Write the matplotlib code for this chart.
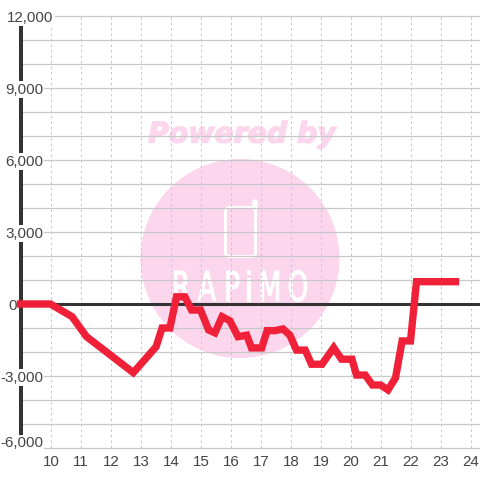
import matplotlib
matplotlib.use("Agg")
import matplotlib.pyplot as plt
from matplotlib.patches import Ellipse, FancyBboxPatch
from matplotlib.patheffects import AbstractPathEffect, withStroke
from matplotlib.transforms import Affine2D, IdentityTransform

hours = [9, 10, 10.72, 11.2, 12.76, 13.52, 13.72, 13.98, 14.2, 14.48, 14.7, 15, 15.27, 15.48,
         15.72, 15.98, 16.25, 16.54, 16.7, 17.04, 17.22, 17.48, 17.75, 17.98, 18.2, 18.49,
         18.7, 19.05, 19.44, 19.7, 20.05, 20.2, 20.49, 20.73, 21, 21.25, 21.5, 21.72, 22, 22.2, 23.5]
values = [0, 0, -530, -1360, -2860, -1780, -1000, -1000, 300, 300, -250, -250, -1080, -1200,
          -530, -700, -1360, -1300, -1830, -1830, -1110, -1110, -1040, -1300, -1920, -1920,
          -2510, -2510, -1820, -2300, -2300, -2960, -2960, -3375, -3375, -3580, -3080, -1540, -1540, 930, 930]
x_ticks = list(range(10, 25))
y_major = [12000, 9000, 6000, 3000, 0, -3000, -6000]
y_grid = list(range(-6000, 12001, 1000))
y_labels = ["12,000", "9,000", "6,000", "3,000", "0", "-3,000", "-6,000"]
logo_letters = list("RAPiMO")

PINK = "#fbd6ec"
TXT = "#444444"
DARK = "#333333"
GRID = "#c8c8c8"
plt.rcParams["font.family"] = ["Liberation Sans", "DejaVu Sans"]

fig = plt.figure(figsize=(4.8, 4.8), dpi=100)
ax = fig.add_axes([0, 0, 1, 1])
ax.set_xlim(10 - 50.5 / 30, 10 + 429.5 / 30)
ax.set_ylim(-6000 - 32 * 1000 / 24, 12000 + 16 * 1000 / 24)
ax.axis("off")

sx = 30.0
sy = 1000 / 24
def X(px): return 10 + (px - 50.5) / sx
def Y(py): return 12000 - (py - 16) * sy


class StretchY(AbstractPathEffect):
    """Stretch a text's glyphs vertically about a fixed canvas height."""
    def __init__(self, factor, ycenter, width):
        super().__init__()
        self.factor, self.ycenter, self.width = factor, ycenter, width

    def draw_path(self, renderer, gc, tpath, affine, rgbFace=None):
        t = affine + Affine2D().translate(0, -self.ycenter).scale(1, self.factor).translate(0, self.ycenter)
        gc0 = renderer.new_gc()
        gc0.copy_properties(gc)
        gc0.set_linewidth(self.width)
        gc0.set_foreground(rgbFace)
        renderer.draw_path(gc0, tpath, t, rgbFace)
        gc0.restore()


# watermark (behind the grid)
ax.add_patch(Ellipse((X(240), Y(258.5)), 199 / sx, 199 * sy, color=PINK, lw=0, zorder=1))
ax.text(X(242), Y(134.5), "Powered by", family="DejaVu Sans", weight="bold", style="italic",
        fontsize=20.4, color=PINK, ha="center", va="center", zorder=1,
        path_effects=[withStroke(linewidth=1.0, foreground=PINK)])
ax.add_patch(FancyBboxPatch((225.5, 480 - 256.5), 30, 49, boxstyle="round,pad=0,rounding_size=4",
                            fc="none", ec="white", lw=2.2, transform=IdentityTransform(), zorder=1.5))
ax.plot([X(254.5), X(254.5)], [Y(208), Y(202)], color="white", lw=4, solid_capstyle="round", zorder=1.5)
for letter, px in zip(logo_letters, [181, 207, 232, 248.5, 270, 298]):
    ax.text(X(px), Y(290), letter, family="DejaVu Sans", fontsize=19,
            color="white", ha="center", va="center", zorder=1.5,
            path_effects=[StretchY(1.55, 480 - 290, 0.8)])

# grid
for v in y_grid:
    ax.plot([X(20.5), X(480)], [v, v], color=GRID, lw=0.9, zorder=2, solid_capstyle="butt")
for t in x_ticks:
    ax.plot([t, t], [-6000, 12000], color=GRID, lw=0.72, ls=(0, (2.5, 3)), zorder=2)

# axis lines
ax.plot([X(480), X(20.5)], [0, 0], color=DARK, lw=2.2, zorder=3, solid_capstyle="butt")
ax.plot([X(20.5), X(20.5)], [12000, -6000], color=DARK, lw=2.9, zorder=3, solid_capstyle="butt")

# y labels with white backing that interrupts axis and grid
for v, s in zip(y_major, y_labels):
    if s == "12,000":
        x0, ha, ypos = 7, "left", v
    elif s == "0":
        x0, ha, ypos = 16.5, "right", v
    elif s == "-6,000":
        x0, ha, ypos = 43, "right", Y(441.5)
    else:
        x0, ha, ypos = 43, "right", v
    ax.text(X(x0), ypos, s, fontsize=10.9, color=TXT, ha=ha, va="center_baseline", zorder=4,
            bbox=dict(fc="white", ec="none", pad=1.0))

# x labels
for t in x_ticks:
    ax.text(t + 0.02, Y(461), str(t), fontsize=10.9, color=TXT, ha="center", va="center_baseline", zorder=4)

# series
ax.plot(hours, values, color="#ef2038", lw=5.3, solid_joinstyle="miter", solid_capstyle="projecting", zorder=5)

fig.savefig("out.png", dpi=100, facecolor="white")
